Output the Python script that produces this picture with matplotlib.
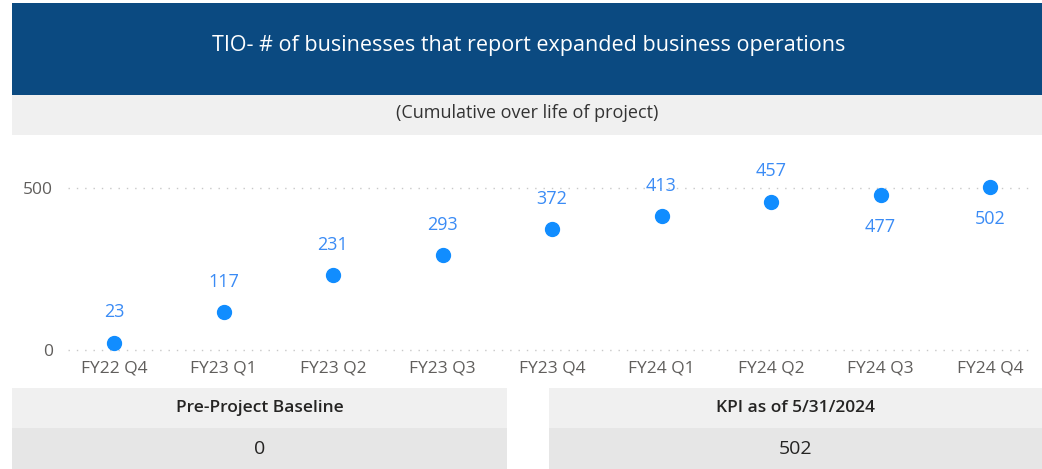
import numpy as np
import matplotlib.pyplot as plt
from matplotlib.patches import Rectangle

plt.rcParams['font.family'] = ['Open Sans', 'DejaVu Sans']

quarters = ["FY22 Q4", "FY23 Q1", "FY23 Q2", "FY23 Q3", "FY23 Q4",
            "FY24 Q1", "FY24 Q2", "FY24 Q3", "FY24 Q4"]
businesses = [23, 117, 231, 293, 372, 413, 457, 477, 502]
label_below = [False, False, False, False, False, False, False, True, True]
yticks = [0, 500]

title = "TIO- # of businesses that report expanded business operations"
subtitle = "(Cumulative over life of project)"
baseline_label = "Pre-Project Baseline"
baseline_value = 0
kpi_label = "KPI as of 5/31/2024"
kpi_value = 502

W, H = 1042, 469
fig = plt.figure(figsize=(W / 100, H / 100), dpi=100)
fig.patch.set_facecolor("white")


def px_rect(x0, y0, x1, y1, color):
    # rectangle in pixel coords (y from top)
    fig.patches.append(Rectangle((x0 / W, 1 - y1 / H), (x1 - x0) / W, (y1 - y0) / H,
                                 transform=fig.transFigure, facecolor=color,
                                 edgecolor="none", zorder=0))


def px_text(x, y, s, **kw):
    fig.text(x / W, 1 - y / H, s, ha="center", va="center", **kw)


# header
px_rect(12, 3, W, 95, "#0B4A81")
px_text(529, 46, title, color="white", fontsize=15.5)
px_rect(12, 95, W, 135, "#F0F0F0")
px_text(527, 113, subtitle, color="#333333", fontsize=13)

# chart area
ax_left, ax_right, ax_top, ax_bot = 68, 1035, 150, 360
ax = fig.add_axes([ax_left / W, 1 - ax_bot / H, (ax_right - ax_left) / W, (ax_bot - ax_top) / H])
ax.set_facecolor("none")
x = np.arange(len(quarters))
ppu = 162 / 500  # pixels per unit
ax.set_ylim(-(ax_bot - 350) / ppu, (350 - ax_top) / ppu)
step = (990 - 114) / 8
ax.set_xlim(-(114 - ax_left) / step, 8 + (ax_right - 990) / step)

for yv in yticks:
    ax.axhline(yv, color="#C8C8C8", linewidth=1, linestyle=(0, (1, 5)), zorder=1)

ax.plot(x, businesses, "o", color="#118DFF", markersize=10, zorder=3, clip_on=False)

for xi, v, below in zip(x, businesses, label_below):
    off = -23 if below else 22
    ax.annotate(str(v), (xi, v), xytext=(0, off), textcoords="offset points",
                ha="center", va="center", color="#3A8BF5", fontsize=13)

ax.set_xticks(x)
ax.set_xticklabels(quarters)
ax.set_yticks(yticks)
ax.tick_params(length=0, colors="#605E5C", labelsize=12.5)
ax.tick_params(axis="x", pad=0)
ax.tick_params(axis="y", pad=11)
for s in ax.spines.values():
    s.set_visible(False)

# bottom cards
for x0, x1, lab, val in [(12, 507, baseline_label, baseline_value),
                         (549, W, kpi_label, kpi_value)]:
    px_rect(x0, 388, x1, 428, "#F0F0F0")
    px_rect(x0, 428, x1, H, "#E6E6E6")
    px_text((x0 + x1) / 2, 408, lab, color="#252423", fontsize=12.5, fontweight="semibold")
    px_text((x0 + x1) / 2, 449, str(val), color="#252423", fontsize=14)

fig.savefig("out.png", dpi=100)
